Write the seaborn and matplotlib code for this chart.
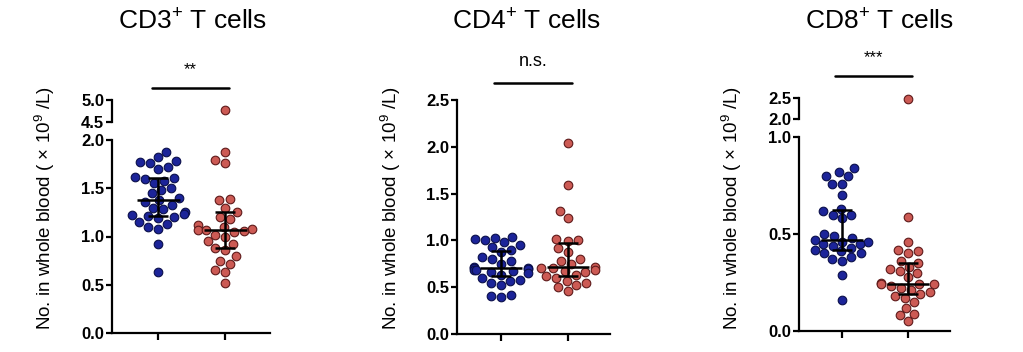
import numpy as np
import pandas as pd
import matplotlib
matplotlib.use("Agg")
import matplotlib.pyplot as plt
import seaborn as sns
from matplotlib.transforms import blended_transform_factory

# ---------------- data ----------------
groups = ["Group A", "Group B"]

cd3_a = [1.88, 1.82, 1.78, 1.77, 1.76, 1.72, 1.70, 1.62, 1.61, 1.60, 1.58, 1.55,
         1.50, 1.48, 1.45, 1.40, 1.38, 1.36, 1.33, 1.30, 1.28, 1.25, 1.23, 1.22,
         1.21, 1.20, 1.19, 1.15, 1.13, 1.10, 1.08, 0.92, 0.63]
cd3_b = [4.78, 1.88, 1.79, 1.76, 1.39, 1.38, 1.30, 1.25, 1.20, 1.18, 1.12, 1.10,
         1.08, 1.07, 1.07, 1.06, 1.05, 1.02, 1.00, 0.95, 0.92, 0.88, 0.86, 0.80,
         0.75, 0.72, 0.65, 0.63, 0.52]

cd4_a = [1.04, 1.03, 1.02, 1.00, 0.98, 0.95, 0.93, 0.90, 0.88, 0.82, 0.80, 0.78,
         0.75, 0.72, 0.70, 0.70, 0.69, 0.68, 0.68, 0.67, 0.66, 0.65, 0.63, 0.60,
         0.58, 0.57, 0.55, 0.52, 0.42, 0.41, 0.40]
cd4_b = [2.04, 1.59, 1.31, 1.24, 1.02, 1.00, 0.99, 0.92, 0.88, 0.80, 0.78, 0.75,
         0.72, 0.71, 0.70, 0.68, 0.67, 0.66, 0.63, 0.62, 0.60, 0.57, 0.55, 0.52,
         0.50, 0.46]

cd8_a = [0.84, 0.82, 0.80, 0.80, 0.76, 0.76, 0.70, 0.63, 0.62, 0.60, 0.60, 0.58,
         0.50, 0.49, 0.48, 0.47, 0.46, 0.46, 0.45, 0.45, 0.44, 0.43, 0.42, 0.41,
         0.40, 0.40, 0.38, 0.37, 0.36, 0.29, 0.16]
cd8_b = [2.48, 0.59, 0.46, 0.42, 0.41, 0.40, 0.36, 0.35, 0.33, 0.32, 0.31, 0.30,
         0.28, 0.25, 0.24, 0.24, 0.24, 0.23, 0.22, 0.21, 0.20, 0.19, 0.18, 0.17,
         0.15, 0.12, 0.09, 0.08, 0.05]

titles = [r"CD3$^{\mathregular{+}}$ T cells", r"CD4$^{\mathregular{+}}$ T cells",
          r"CD8$^{\mathregular{+}}$ T cells"]
sig_labels = ["**", "n.s.", "***"]
ylabel = r"No. in whole blood ( $\times$ 10$^{\mathregular{9}}$ /L)"

lower_ticks = [[0.0, 0.5, 1.0, 1.5, 2.0], [0.0, 0.5, 1.0, 1.5, 2.0, 2.5], [0.0, 0.5, 1.0]]
upper_ticks = [[4.5, 5.0], None, [2.0, 2.5]]

# ---------------- style ----------------
sns.set_style("white")
plt.rcParams["font.family"] = ["Liberation Sans", "DejaVu Sans"]
plt.rcParams["mathtext.fontset"] = "custom"
plt.rcParams["mathtext.rm"] = "Liberation Sans"
plt.rcParams["mathtext.it"] = "Liberation Sans:italic"
plt.rcParams["mathtext.bf"] = "Liberation Sans:bold"
for k in ["text.color", "axes.labelcolor", "xtick.color", "ytick.color", "axes.edgecolor"]:
    plt.rcParams[k] = "black"

palette = {"Group A": "#1c2499", "Group B": "#cc5a54"}
edges = {"Group A": "#0a0f4a", "Group B": "#5e1a1a"}

fig = plt.figure(figsize=(10.23, 3.52), dpi=100)

W = 1023.0
H = 352.0

def rect(x0, x1, ytop, ybot):
    return [x0 / W, 1 - ybot / H, (x1 - x0) / W, (ybot - ytop) / H]

panels = [
    dict(a=cd3_a, b=cd3_b, lower=rect(112, 270, 140, 333), upper=rect(112, 270, 100, 122),
         lo_lim=(0, 2.0), up_lim=(4.5, 5.0), xlim=(-0.69, 1.67),
         line_y=88, text_y=70, title_x=193, ylab_x=45),
    dict(a=cd4_a, b=cd4_b, lower=rect(457, 610, 100, 334), upper=None,
         lo_lim=(0, 2.5), up_lim=None, xlim=(-0.66, 1.63),
         line_y=83, text_y=61, title_x=527, ylab_x=391),
    dict(a=cd8_a, b=cd8_b, lower=rect(799, 950, 137, 331), upper=rect(799, 950, 98, 119),
         lo_lim=(0, 1.0), up_lim=(2.0, 2.5), xlim=(-0.65, 1.64),
         line_y=76, text_y=58, title_x=880, ylab_x=732),
]

MS = 6.2

def style_axis(ax, bottom=True):
    for s in ["top", "right"]:
        ax.spines[s].set_visible(False)
    ax.spines["left"].set_linewidth(1.6)
    ax.spines["left"].set_color("black")
    if bottom:
        ax.spines["bottom"].set_linewidth(1.6)
        ax.spines["bottom"].set_color("black")
    else:
        ax.spines["bottom"].set_visible(False)
    ax.tick_params(axis="y", direction="out", length=4, width=1.6, color="black",
                   labelsize=12, pad=1.5, left=True, labelcolor="black")
    ax.tick_params(axis="x", direction="out", length=5, width=1.6, color="black",
                   labelbottom=False, bottom=bottom)
    for lab in ax.get_yticklabels():
        lab.set_fontweight("bold")

for i, p in enumerate(panels):
    df = pd.DataFrame({
        "group": [groups[0]] * len(p["a"]) + [groups[1]] * len(p["b"]),
        "value": list(p["a"]) + list(p["b"]),
    })
    ax = fig.add_axes(p["lower"])
    ax.set_xlim(*p["xlim"])
    ax.set_ylim(*p["lo_lim"])
    low = df[df["value"] <= p["lo_lim"][1]]
    for g in groups:
        sub = low[low["group"] == g]
        sns.swarmplot(data=sub, x="group", y="value", order=groups, ax=ax,
                      color=palette[g], edgecolor=edges[g], linewidth=0.8,
                      size=MS, clip_on=False, zorder=2)
    # median with interquartile range
    for j, g in enumerate(groups):
        vals = df.loc[df["group"] == g, "value"].to_numpy()
        q1, med, q3 = np.percentile(vals, [25, 50, 75])
        ax.hlines(med, j - 0.32, j + 0.32, color="black", lw=1.8, zorder=5)
        ax.errorbar(j, med, yerr=[[med - q1], [q3 - med]], fmt="none",
                    ecolor="black", elinewidth=1.8, capsize=7, capthick=1.8, zorder=5)
    ax.set_xlim(*p["xlim"])
    ax.set_ylim(*p["lo_lim"])
    ax.set_yticks(lower_ticks[i])
    ax.set_yticklabels([f"{t:.1f}" for t in lower_ticks[i]])
    ax.set_xticks([0, 1])
    ax.set_xlabel("")
    ax.set_ylabel("")
    style_axis(ax, bottom=True)

    if p["upper"] is not None:
        ax2 = fig.add_axes(p["upper"])
        ax2.set_xlim(*p["xlim"])
        ax2.set_ylim(*p["up_lim"])
        high = df[df["value"] >= p["up_lim"][0]]
        for g in groups:
            sub = high[high["group"] == g]
            if len(sub):
                sns.swarmplot(data=sub, x="group", y="value", order=groups, ax=ax2,
                              color=palette[g], edgecolor=edges[g], linewidth=0.8,
                              size=MS, clip_on=False, zorder=2)
        ax2.set_xlim(*p["xlim"])
        ax2.set_ylim(*p["up_lim"])
        ax2.set_yticks(upper_ticks[i])
        ax2.set_yticklabels([f"{t:.1f}" for t in upper_ticks[i]])
        ax2.set_xticks([])
        ax2.set_xlabel("")
        ax2.set_ylabel("")
        style_axis(ax2, bottom=False)

    # significance bracket
    tr = blended_transform_factory(ax.transData, fig.transFigure)
    ly = 1 - p["line_y"] / H
    ty = 1 - p["text_y"] / H
    fig.add_artist(plt.Line2D([-0.1, 1.06], [ly, ly], transform=tr, color="black", lw=1.8))
    fig.text(0.48, ty, sig_labels[i], transform=tr, ha="center", va="center",
             fontsize=12 if sig_labels[i] != "n.s." else 13)

    # title and y label
    fig.text(p["title_x"] / W, 1 - 22 / H, titles[i], ha="center", va="center", fontsize=19)
    fig.text(p["ylab_x"] / W, 1 - 208 / H, ylabel, ha="center", va="center",
             rotation=90, fontsize=13.5)

fig.savefig("out.png", dpi=100)
